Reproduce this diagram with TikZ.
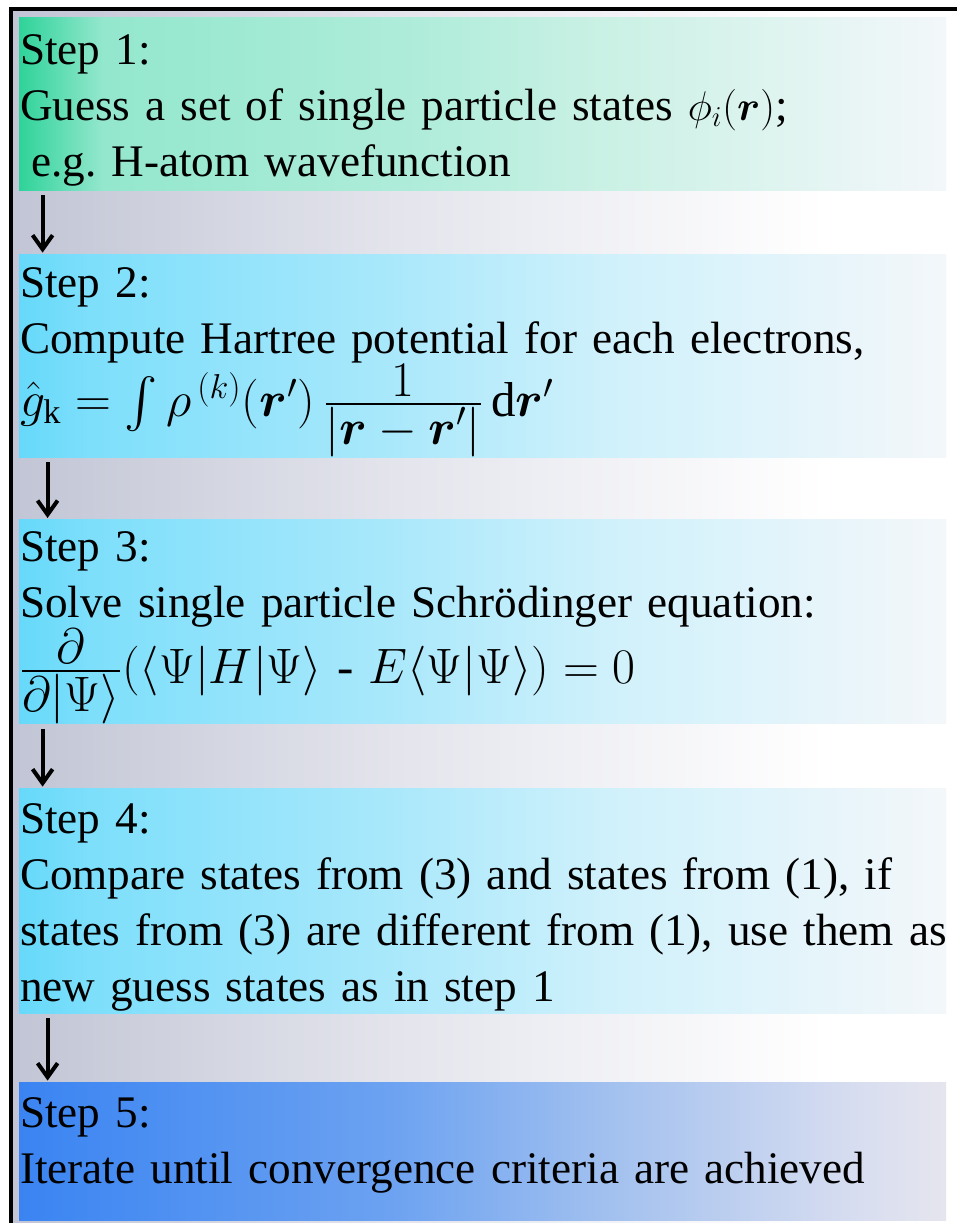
\documentclass[tikz,border=0pt]{standalone}
\usepackage{amsmath}
\usepackage{fontspec}
\setmainfont{Liberation Serif}
\usetikzlibrary{arrows.meta,positioning}
\definecolor{bgleft}{HTML}{C2C5D5}
\definecolor{bgmid}{HTML}{E6E7EE}
\definecolor{grA}{HTML}{2FD39A}
\definecolor{grB}{HTML}{93E7CD}
\definecolor{grC}{HTML}{AEECD9}
\definecolor{grD}{HTML}{CBF1E5}
\definecolor{paleend}{HTML}{F3F7FA}
\definecolor{cyA}{HTML}{66D9FA}
\definecolor{cyB}{HTML}{7EDFFB}
\definecolor{cyC}{HTML}{A9E8FB}
\definecolor{cyD}{HTML}{D0F1FB}
\definecolor{blA}{HTML}{3A84F2}
\definecolor{blB}{HTML}{6CA2F1}
\definecolor{blC}{HTML}{A3C1EF}
\definecolor{blD}{HTML}{D7DDF0}
\definecolor{blE}{HTML}{E5E5EE}
\pgfdeclarehorizontalshading{bgshade}{100bp}{color(0bp)=(bgleft); color(25bp)=(bgleft); color(47bp)=(bgmid); color(68bp)=(white); color(100bp)=(white)}
\pgfdeclarehorizontalshading{greenstep}{100bp}{color(0bp)=(grA); color(25bp)=(grA); color(29.5bp)=(grB); color(46bp)=(grC); color(57bp)=(grD); color(75bp)=(paleend); color(100bp)=(paleend)}
\pgfdeclarehorizontalshading{cyanstep}{100bp}{color(0bp)=(cyA); color(25bp)=(cyA); color(29bp)=(cyB); color(45bp)=(cyC); color(57bp)=(cyD); color(75bp)=(paleend); color(100bp)=(paleend)}
\pgfdeclarehorizontalshading{bluestep}{100bp}{color(0bp)=(blA); color(25bp)=(blA); color(45bp)=(blB); color(57bp)=(blC); color(70bp)=(blD); color(75bp)=(blE); color(100bp)=(blE)}
\tikzset{
  stepbox/.style={rectangle, minimum width=463.5pt, text width=462.5pt, inner xsep=0.5pt, inner ysep=0pt, align=left, font=\fontsize{22.6}{28}\selectfont\frenchspacing},
  steparrow/.style={-{Straight Barb[length=7pt,width=10pt]}, line width=2pt, shorten <=2.5pt, shorten >=0.5pt}
}
\newcommand{\eqsize}{\fontsize{24.5}{28}\selectfont}
\newcommand{\topstrut}{\rule{0pt}{22pt}}

\begin{document}
\begin{tikzpicture}[x=0.5pt,y=-0.5pt]
\useasboundingbox (0,0) rectangle (957,1223);
\fill[shading=bgshade] (13,11) rectangle (957,1223);
\draw[line width=2pt] (11,1223) -- (11,9) -- (957,9);
\node[stepbox, shading=greenstep, minimum height=86.5pt] (s1) at (482.5,103.5) {\topstrut Step 1:\\ Guess a set of single particle states $\phi_i(\boldsymbol{r})$;\\ \hspace*{0.25em}e.g. H-atom wavefunction};
\node[stepbox, shading=cyanstep, minimum height=101.5pt] (s2) at (482.5,355.5) {\rule{0pt}{21.5pt}Step 2:\\ Compute Hartree potential for each electrons,\\ {\eqsize$\hat{g}_{\mathrm{k}} = \int\rho^{\,(k)}(\boldsymbol{r}')\,\frac{\textstyle 1}{\textstyle|\boldsymbol{r}-\boldsymbol{r}'|}\,\mathrm{d}\boldsymbol{r}'$}};
\node[stepbox, shading=cyanstep, minimum height=101.5pt] (s3) at (482.5,621.5) {\rule{0pt}{21pt}Step 3:\\ Solve single particle Schrödinger equation:\\ {\eqsize$\frac{\textstyle\partial}{\textstyle\partial|\Psi\rangle}(\langle\Psi|H|\Psi\rangle$ - $E\langle\Psi|\Psi\rangle) = 0$}};
\node[stepbox, shading=cyanstep, minimum height=112.5pt] (s4) at (482.5,900.5) {\topstrut Step 4:\\ Compare states from (3) and states from (1), if\\ \mbox{states from (3) are different from (1), use them as}\\ new guess states as in step 1};
\node[stepbox, shading=bluestep, minimum height=69pt] (s5) at (482.5,1151) {\topstrut Step 5:\\ Iterate until convergence criteria are achieved\rule[-18pt]{0pt}{18pt}};
\draw[steparrow] ([xshift=12pt]s1.south west) -- ([xshift=12pt]s2.north west);
\draw[steparrow] ([xshift=14.5pt]s2.south west) -- ([xshift=14.5pt]s3.north west);
\draw[steparrow] ([xshift=12pt]s3.south west) -- ([xshift=12pt]s4.north west);
\draw[steparrow] ([xshift=14.5pt]s4.south west) -- ([xshift=14.5pt]s5.north west);
\end{tikzpicture}
\end{document}
